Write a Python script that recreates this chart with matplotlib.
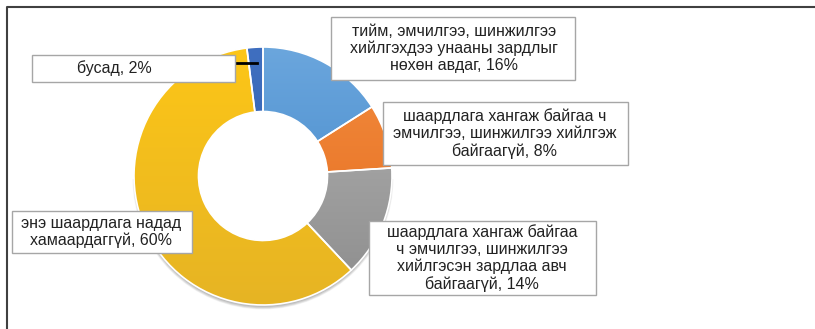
import numpy as np
import matplotlib.pyplot as plt
from matplotlib.colors import LinearSegmentedColormap
from matplotlib.patches import Rectangle, Wedge

plt.rcParams['font.family'] = ['Liberation Sans', 'DejaVu Sans']

# survey answers, clockwise from 12 o'clock
names = [
    "тийм, эмчилгээ, шинжилгээ\nхийлгэхдээ унааны зардлыг\nнөхөн авдаг",
    "шаардлага хангаж байгаа ч\nэмчилгээ, шинжилгээ хийлгэж\nбайгаагүй",
    "шаардлага хангаж байгаа\nч эмчилгээ, шинжилгээ\nхийлгэсэн зардлаа авч\nбайгаагүй",
    "энэ шаардлага надад\nхамаардаггүй",
    "бусад",
]
shares = [16, 8, 14, 60, 2]
# gradient top / bottom colour for each slice
top_colors = ['#6ba6dd', '#f28c3e', '#b3b3b3', '#fdc617', '#3f6fc0']
bottom_colors = ['#3a82c6', '#e56a1d', '#8c8c8c', '#e6b424', '#2c5aa8']

W, H = 815, 329
fig = plt.figure(figsize=(W / 100, H / 100), dpi=100)
ax = fig.add_axes([0, 0, 1, 1])


def py(y):
    # pixel row -> data y
    return H - y


cx, cy, r_out = 263, py(176), 129
ring = 0.5

# soft shadow under the outer edge
for k in range(8):
    ax.add_patch(Wedge((cx, cy - 3), r_out + 1.5 - k * 0.4, 180, 360,
                       width=12, facecolor='#000000',
                       alpha=0.035, edgecolor='none', zorder=1))

wedges, _ = ax.pie(shares, center=(cx, cy), radius=r_out, startangle=90,
                   counterclock=False, frame=True,
                   wedgeprops=dict(width=r_out * ring, edgecolor='white',
                                   linewidth=1.2))
ax.set_xlim(0, W)
ax.set_ylim(0, H)
ax.set_aspect('equal')
ax.axis('off')

grad = np.linspace(0, 1, 256).reshape(-1, 1)
ext = [cx - r_out, cx + r_out, cy - r_out, cy + r_out]
for w, c1, c2 in zip(wedges, top_colors, bottom_colors):
    cmap = LinearSegmentedColormap.from_list('g', [c2, c1])
    im = ax.imshow(grad, cmap=cmap, extent=ext, origin='lower',
                   aspect='auto', zorder=2.5, interpolation='bilinear')
    im.set_clip_path(w)
    w.set_facecolor('none')
    w.set_zorder(3)
ax.set_xlim(0, W)
ax.set_ylim(0, H)

# label boxes (left, top, right, bottom, text centre x in pixels)
boxes = [
    (331, 17, 575, 80, 454),
    (383, 102, 628, 165, 505),
    (369, 221, 596, 295, 482),
    (12, 211, 192, 253, 101),
    (32, 55, 235, 82, 114),
]
for name, val, (x0, y0, x1, y1, tx) in zip(names, shares, boxes):
    ax.add_patch(Rectangle((x0, py(y1)), x1 - x0, y1 - y0, facecolor='white',
                           edgecolor='#a6a6a6', linewidth=1, zorder=5))
    ax.text(tx, py((y0 + y1) / 2), f"{name}, {val}%",
            ha='center', va='center', fontsize=11.5, color='#222222',
            linespacing=1.14, zorder=6)

# leader for the small slice
ax.plot([235, 257], [py(63), py(63)], color='black', lw=2, zorder=4)

# chart frame
ax.plot([7, 7, W], [0, py(7), py(7)], color='#404040', lw=1.5, zorder=7)

fig.savefig('out.png', dpi=100)
